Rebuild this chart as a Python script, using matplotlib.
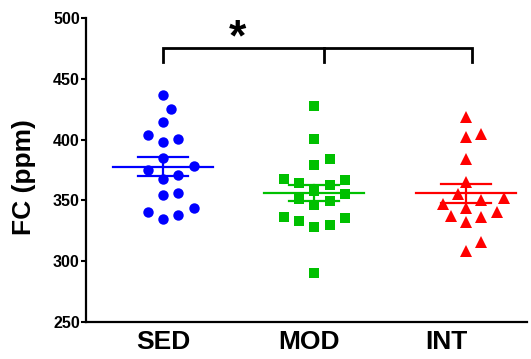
import numpy as np
import matplotlib
matplotlib.use("Agg")
import matplotlib.pyplot as plt
import matplotlib.transforms as mtransforms

plt.rcParams['font.family'] = ['Liberation Sans', 'DejaVu Sans']
plt.rcParams['font.weight'] = 'bold'

groups = ["SED", "MOD", "INT"]
sed = [436.7, 424.9, 414.7, 403.8, 398.3, 400.2, 384.6, 378.3, 375.0, 370.9,
       367.3, 355.8, 354.4, 340.7, 334.5, 338.0, 344.0]
mod = [427.9, 400.5, 383.8, 379.1, 367.3, 364.6, 362.7, 366.8, 358.0, 355.3,
       351.2, 346.2, 349.5, 335.3, 329.8, 327.9, 333.1, 336.6, 290.6]
inte = [418.8, 404.3, 401.9, 383.8, 365.4, 355.0, 351.7, 346.8, 350.3, 344.0,
        340.7, 336.1, 332.5, 337.4, 316.0, 308.6]
data = [sed, mod, inte]
colors = ["#0000ff", "#00c000", "#ff0000"]
markers = ["o", "s", "^"]
msizes = [7.5, 7, 8.5]


def swarm(ax, center, vals, step_px=7.7, min_px=13.5):
    # simple beeswarm in pixel space
    tr = ax.transData
    placed = []
    xs = np.zeros(len(vals))
    order = np.argsort(vals)
    for i in order:
        px, py = tr.transform((center, vals[i]))
        for k in [0, 1, -1, 2, -2, 3, -3, 4, -4, 5, -5]:
            cx = px + k * step_px
            if all((cx - qx) ** 2 + (py - qy) ** 2 >= min_px ** 2 for qx, qy in placed):
                break
        placed.append((cx, py))
        xs[i] = tr.inverted().transform((cx, py))[0]
    return xs


fig = plt.figure(figsize=(5.31, 3.59), dpi=100)
ax = fig.add_axes([86 / 531, 37 / 359, 441 / 531, 304 / 359])
ax.set_xlim(-0.508, 2.403)
ax.set_ylim(250, 500)

for i, vals in enumerate(data):
    vals = np.array(vals)
    xs = swarm(ax, i, vals)
    ax.plot(xs, vals, linestyle="none", marker=markers[i], ms=msizes[i],
            color=colors[i], markeredgewidth=0, zorder=3, clip_on=False)
    m = vals.mean()
    se = vals.std(ddof=1) / np.sqrt(len(vals))
    ax.plot([i - 0.33, i + 0.33], [m, m], color=colors[i], lw=1.6, zorder=4)
    ax.plot([i - 0.165, i + 0.165], [m + se, m + se], color=colors[i], lw=1.6, zorder=4)
    ax.plot([i - 0.165, i + 0.165], [m - se, m - se], color=colors[i], lw=1.6, zorder=4)
    ax.plot([i, i], [m - se, m + se], color=colors[i], lw=1.6, zorder=4)

# significance bracket
ax.plot([0, 0, 2.04, 2.04], [464, 475, 475, 464], color="black", lw=2,
        clip_on=False, solid_joinstyle="miter")
ax.plot([1.06, 1.06], [464, 475], color="black", lw=2, clip_on=False)
ax.text(0.495, 466, "*", ha="center", va="bottom", fontsize=32, fontweight="bold")

for s in ["top", "right"]:
    ax.spines[s].set_visible(False)
for s in ["left", "bottom"]:
    ax.spines[s].set_linewidth(1.6)

ax.set_yticks(np.arange(250, 501, 50))
ax.tick_params(axis="y", labelsize=11.5, length=3.5, width=1.5, pad=1)
ax.set_xticks([0, 1, 2])
ax.set_xticklabels(groups, fontsize=19, fontweight="bold")
ax.tick_params(axis="x", length=0, pad=6)
ax.set_xticks([1], minor=True)
ax.tick_params(axis="x", which="minor", length=3, width=1.5)
lab = ax.get_xticklabels()
off = mtransforms.ScaledTranslation(-20 / 100, 0, fig.dpi_scale_trans)
lab[2].set_transform(lab[2].get_transform() + off)
off2 = mtransforms.ScaledTranslation(-5 / 100, 0, fig.dpi_scale_trans)
lab[1].set_transform(lab[1].get_transform() + off2)

fig.text(24 / 531, 1 - 177 / 359, "FC (ppm)", rotation=90, ha="center",
         va="center", fontsize=19, fontweight="bold")

fig.savefig("out.png", dpi=100)
